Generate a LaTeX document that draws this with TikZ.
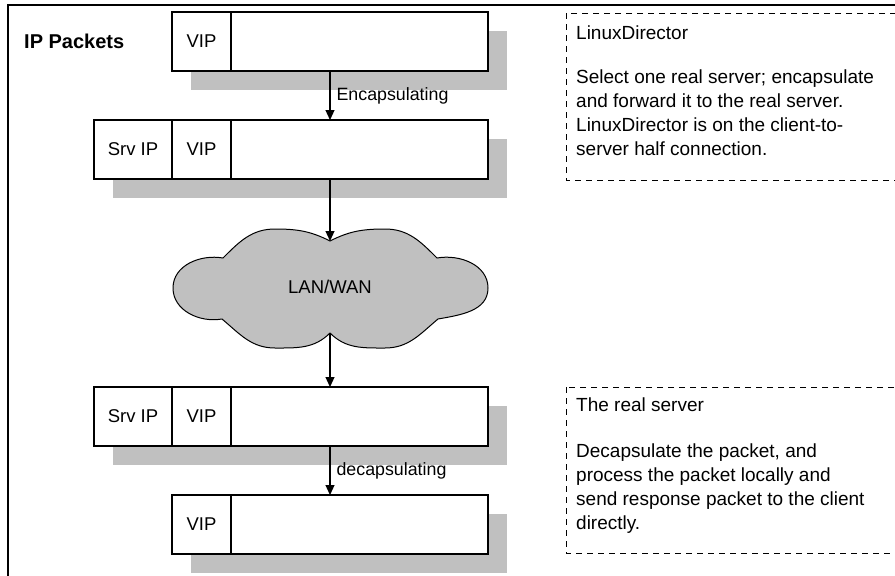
\documentclass[tikz,border=0pt]{standalone}
\usepackage{fontspec}
\setmainfont{Liberation Sans}
\usetikzlibrary{positioning,calc,arrows.meta,backgrounds}
\definecolor{shadowgray}{RGB}{192,192,192}

\begin{document}
\begin{tikzpicture}[
    x=1pt, y=-1pt,
    field/.style={rectangle, draw, line width=1.2pt, fill=white, minimum height=59pt,
      inner sep=0pt, outer sep=0pt, anchor=north west, font=\fontsize{18.5}{20}\selectfont},
    srvfield/.style={field, minimum width=78pt},
    vipfield/.style={field, minimum width=59pt},
    payload/.style={field, minimum width=257pt},
    shadowbox/.style={fill=shadowgray},
    flow/.style={-{Triangle[length=10pt,width=9pt]}, line width=1.2pt},
    steplabel/.style={right=6pt, inner sep=0pt, font=\fontsize{17.8}{20}\selectfont},
    notebox/.style={draw, line width=1pt, dash pattern=on 6pt off 5pt},
    notetext/.style={anchor=north west, align=left, inner sep=0pt, font=\fontsize{19}{24}\selectfont}
  ]
  \useasboundingbox (0,0) rectangle (895,576);
  \clip (0,0) rectangle (895,576);

  % frame
  \draw[line width=2.5pt] (8,580) -- (8,5) -- (900,5);

  \node[anchor=west, inner sep=0pt, font=\fontsize{20}{22}\selectfont\bfseries] (title) at (24,41) {IP Packets};

  % packets
  \node[vipfield] (vip1) at (172,12) {VIP};
  \node[payload] (body1) at (vip1.north east) {};

  \node[srvfield] (srv2) at (94,120) {Srv IP};
  \node[vipfield] (vip2) at (srv2.north east) {VIP};
  \node[payload] (body2) at (vip2.north east) {};

  \node[srvfield] (srv3) at (94,387) {Srv IP};
  \node[vipfield] (vip3) at (srv3.north east) {VIP};
  \node[payload] (body3) at (vip3.north east) {};

  \node[vipfield] (vip4) at (172,495) {VIP};
  \node[payload] (body4) at (vip4.north east) {};

  \begin{scope}[on background layer]
    \fill[shadowbox] ($(vip1.north west)+(19,19)$) rectangle ($(body1.south east)+(19,19)$);
    \fill[shadowbox] ($(srv2.north west)+(19,19)$) rectangle ($(body2.south east)+(19,19)$);
    \fill[shadowbox] ($(srv3.north west)+(19,19)$) rectangle ($(body3.south east)+(19,19)$);
    \fill[shadowbox] ($(vip4.north west)+(19,19)$) rectangle ($(body4.south east)+(19,19)$);
  \end{scope}

  % network cloud
  \coordinate (cloudtop) at (330,241);
  \coordinate (cloudbot) at (330,333);
  \draw[fill=shadowgray, line width=1pt] (cloudtop)
    to[out=153,in=0] (275,229) to[out=180,in=45] (223,258)
    to[out=170,in=90] (173,288) to[out=-90,in=190] (222,319)
    to[out=-40,in=180] (275,348) to[out=0,in=-135] (cloudbot)
    to[out=-45,in=180] (385,348) to[out=0,in=-140] (438,319)
    to[out=10,in=-90] (488,288) to[out=90,in=10] (437,258)
    to[out=135,in=0] (385,229) to[out=180,in=27] cycle;
  \node[font=\fontsize{18.5}{20}\selectfont] (lanwan) at (330,287) {LAN/WAN};

  % arrows
  \draw[flow] (body1.south -| lanwan) -- node[steplabel] {Encapsulating} (body2.north -| lanwan);
  \draw[flow] (body2.south -| lanwan) -- (cloudtop);
  \draw[flow] (cloudbot) -- (body3.north -| lanwan);
  \draw[flow] (body3.south -| lanwan) -- node[steplabel] {decapsulating} (body4.north -| lanwan);

  % notes
  \draw[notebox] (566,13) rectangle (905,180);
  \node[notetext] (director) at (576,26) {LinuxDirector\\[20pt]
    Select one real server; encapsulate\\
    and forward it to the real server.\\
    LinuxDirector is on the client-to-\\
    server half connection.};

  \draw[notebox] (566,387) rectangle (905,553);
  \node[notetext] (realserver) at (576,398) {The real server\\[22pt]
    Decapsulate the packet, and\\
    process the packet locally and\\
    send response packet to the client\\
    directly.};
\end{tikzpicture}
\end{document}
